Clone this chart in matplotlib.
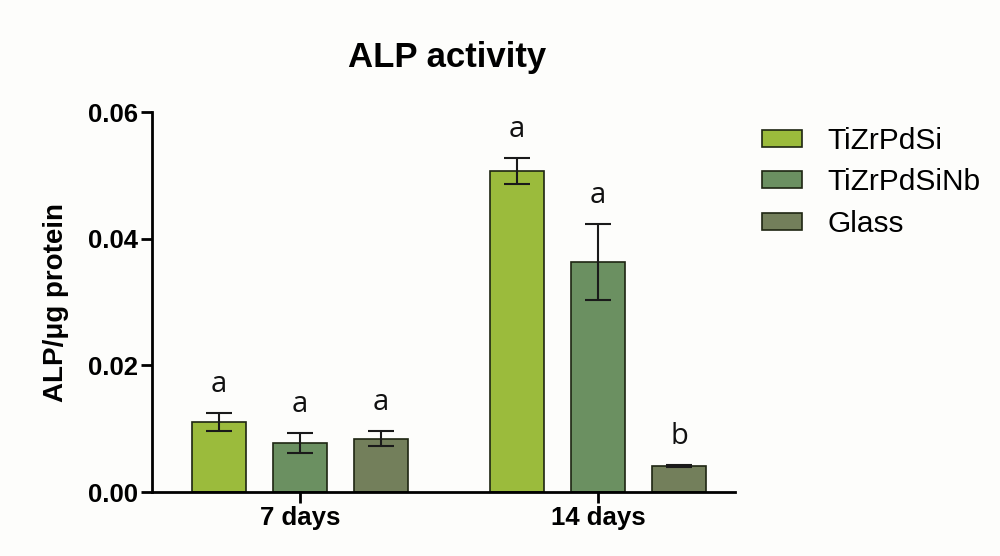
import numpy as np
import matplotlib
matplotlib.use("Agg")
import matplotlib.pyplot as plt

plt.rcParams['font.family'] = ['Liberation Sans', 'DejaVu Sans']

groups = ['7 days', '14 days']
series = ['TiZrPdSi', 'TiZrPdSiNb', 'Glass']
means = {
    'TiZrPdSi':   [0.0111, 0.0507],
    'TiZrPdSiNb': [0.0078, 0.0363],
    'Glass':      [0.0084, 0.0041],
}
errs = {
    'TiZrPdSi':   [0.0014, 0.0020],
    'TiZrPdSiNb': [0.0016, 0.0060],
    'Glass':      [0.0012, 0.0001],
}
letters = {
    'TiZrPdSi':   ['a', 'a'],
    'TiZrPdSiNb': ['a', 'a'],
    'Glass':      ['a', 'b'],
}
colors = ['#9bbb3c', '#6b9061', '#737f5b']

fig = plt.figure(figsize=(10, 5.56), dpi=100)
fig.patch.set_facecolor('#fdfdfb')
ax = fig.add_axes([0.152, 0.115, 0.583, 0.6835])
ax.set_facecolor('#fdfdfb')

x = np.arange(len(groups))
offs = [-0.272, 0.0, 0.272]
w = 0.181

handles = []
for i, s in enumerate(series):
    b = ax.bar(x + offs[i], means[s], w, color=colors[i], edgecolor='#1e2612',
               linewidth=1.2, label=s, zorder=2)
    handles.append(b)
    ax.errorbar(x + offs[i], means[s], yerr=errs[s], fmt='none', ecolor='#1a1a1a',
                elinewidth=1.5, capsize=9.5, capthick=1.5, zorder=3)
    for j in range(len(groups)):
        top = means[s][j] + errs[s][j]
        ax.text(x[j] + offs[i], top + 0.0045, letters[s][j], ha='center', va='center',
                fontsize=21, family=['Open Sans', 'DejaVu Sans'], color='#111111')

ax.set_xlim(-0.497, 1.46)
ax.set_ylim(0, 0.06)
ax.set_yticks([0, 0.02, 0.04, 0.06])
ax.set_yticklabels(['0.00', '0.02', '0.04', '0.06'])
ax.set_xticks(x)
ax.set_xticklabels(groups)
for lab in ax.get_xticklabels() + ax.get_yticklabels():
    lab.set_fontweight('bold')
    lab.set_fontsize(18.5)
ax.tick_params(axis='both', direction='out', length=8, width=2, pad=2)
for sp in ['top', 'right']:
    ax.spines[sp].set_visible(False)
for sp in ['left', 'bottom']:
    ax.spines[sp].set_linewidth(2)

ax.set_ylabel('ALP/\u03bcg protein', fontsize=20, fontweight='bold')
ax.yaxis.set_label_coords(-0.142, 0.5)

fig.text(0.447, 0.897, 'ALP activity', ha='center', va='center', fontsize=25, fontweight='bold')

fig.legend(handles=handles, labels=series, loc='upper left', bbox_to_anchor=(0.762, 0.772),
           frameon=False, fontsize=21.5, handlelength=1.35, handleheight=0.5,
           handletextpad=0.85, labelspacing=0.45, borderpad=0, borderaxespad=0)

fig.savefig('out.png', dpi=100, facecolor=fig.get_facecolor())
